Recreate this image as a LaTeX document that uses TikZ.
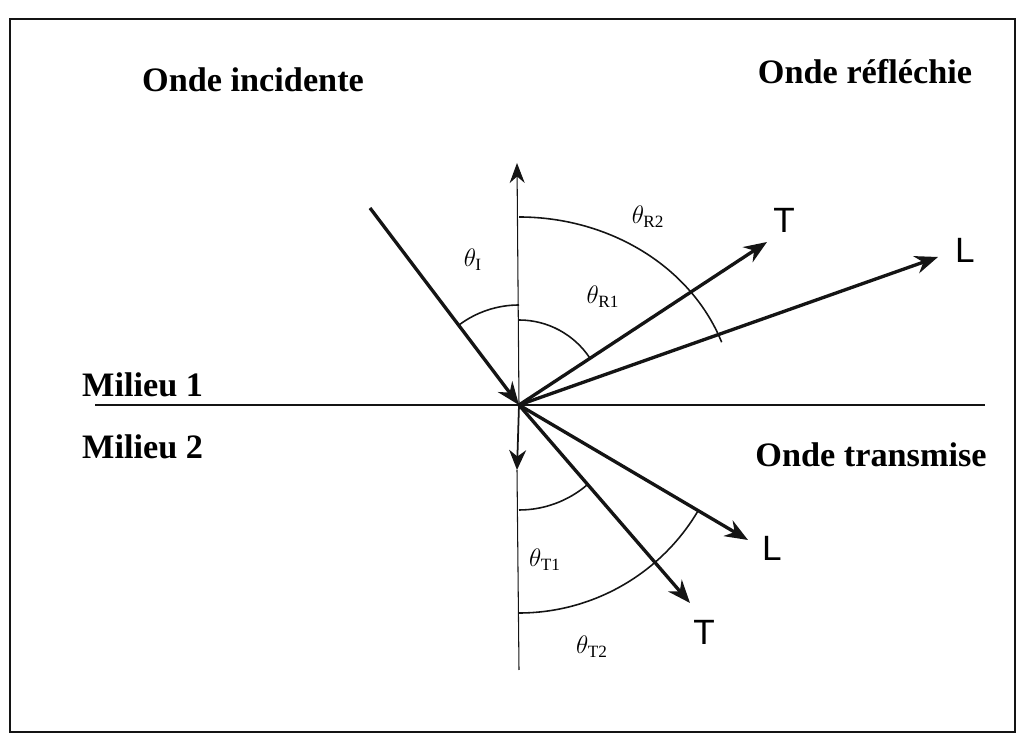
\documentclass[tikz,border=0pt]{standalone}
\usepackage{fontspec}
\setmainfont{Liberation Serif}
\newfontfamily\labfont{Liberation Sans}
\usetikzlibrary{arrows.meta}
\definecolor{cink}{RGB}{20,20,20}
\tikzset{refrac/.style={x=0.02cm,y=0.02cm,font=\small},
  ray/.style={cink,line width=1.9pt,-{Stealth[length=4.6mm,width=3.6mm]}},
  normal/.style={cink,line width=0.6pt},
  angarc/.style={cink,line width=0.9pt},
  zone/.style={font=\fontsize{19.5}{21}\selectfont\bfseries},
  wave/.style={font=\labfont\fontsize{20}{22}\selectfont},
  ang/.style={font=\fontsize{14}{16}\selectfont}}

\begin{document}
\begin{tikzpicture}[refrac]
    \useasboundingbox (0,0) rectangle (1021,740);
    \draw[cink,line width=1.2pt] (10,8) rectangle (1015,721);
    \coordinate (O) at (519,335);
    % interface and normal
    \coordinate (iL) at (95,335);  \coordinate (iR) at (985,335);
    \coordinate (nUp) at (517,577); \coordinate (nDn) at (517,270); \coordinate (nEnd) at (519,70);
    \draw[cink,line width=1.1pt] (iL) -- (iR);
    \draw[normal,-{Stealth[length=4mm,width=3mm]}] (O) -- (nUp);
    \draw[normal,line width=1pt,-{Stealth[length=4mm,width=3.4mm]}] (O) -- (nDn);
    \draw[normal] (nDn) -- (nEnd);
    % rays
    \coordinate (inc) at (370,532);
    \coordinate (rT) at (767,498); \coordinate (rL) at (938,483);
    \coordinate (tL) at (748,200); \coordinate (tT) at (690,137);
    \draw[ray] (inc) -- (O);
    \draw[ray] (O) -- (rT);
    \draw[ray] (O) -- (rL);
    \draw[ray] (O) -- (tL);
    \draw[ray] (O) -- (tT);
    % angle arcs
    \draw[angarc] ([shift={(90:100)}]O) arc[start angle=90,end angle=127,radius=100];
    \draw[angarc] ([shift={(90:85)}]O) arc[start angle=90,end angle=33.3,radius=85];
    \draw[angarc] ([shift={(90:188)}]O) arc[start angle=90,end angle=19.5,x radius=215,y radius=188];
    \draw[angarc] ([shift={(270:105)}]O) arc[start angle=270,end angle=310.8,radius=105];
    \draw[angarc] ([shift={(270:208)}]O) arc[start angle=270,end angle=329.5,radius=208];
    % labels
    \node[zone] (inci) at (253,660) {Onde incidente};
    \node[zone] (refl) at (865,668) {Onde réfléchie};
    \node[zone] (trans) at (871,285) {Onde transmise};
    \node[zone,anchor=west] (mil1) at (76,355) {Milieu 1};
    \node[zone,anchor=west] (mil2) at (76,293) {Milieu 2};
    \node[wave] (lrT) at (784,520) {T};
    \node[wave] (lrL) at (965,490) {L};
    \node[wave] (ltL) at (772,192) {L};
    \node[wave] (ltT) at (704,108) {T};
    \node[ang] (aI) at (473,480) {$\theta_{\mathrm{I}}$};
    \node[ang] (aR1) at (603,443) {$\theta_{\mathrm{R1}}$};
    \node[ang] (aR2) at (648,523) {$\theta_{\mathrm{R2}}$};
    \node[ang] (aT1) at (545,180) {$\theta_{\mathrm{T1}}$};
    \node[ang] (aT2) at (592,93) {$\theta_{\mathrm{T2}}$};
  \end{tikzpicture}
\end{document}
